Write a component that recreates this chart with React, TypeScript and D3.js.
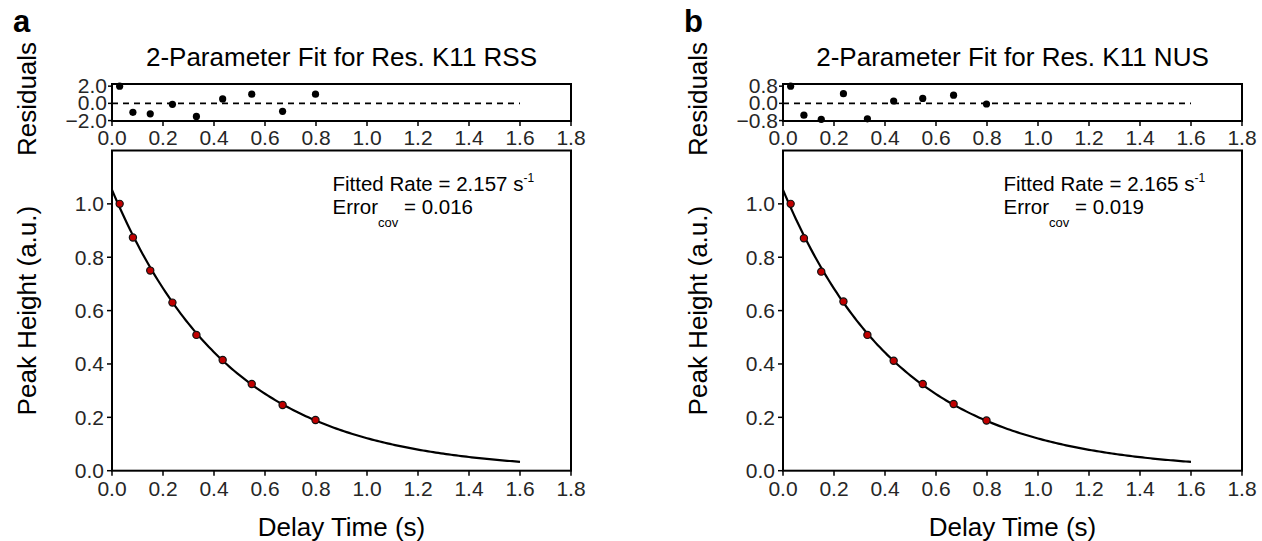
import React from "react";
import * as d3 from "d3";

// ---------- data ----------
const delayTimes = [0.03, 0.082, 0.15, 0.237, 0.331, 0.434, 0.548, 0.669, 0.798];

const rssHeights = [1.0, 0.874, 0.75, 0.63, 0.509, 0.415, 0.325, 0.246, 0.19];
const rssResiduals = [2.0, -1.04, -1.22, -0.11, -1.52, 0.52, 1.07, -0.93, 1.07];
const rssRate = 2.157;
const rssAmp = 1.0525;
const rssError = "0.016";

const nusHeights = [1.0, 0.871, 0.746, 0.634, 0.509, 0.412, 0.325, 0.25, 0.188];
const nusResiduals = [0.8, -0.55, -0.74, 0.45, -0.72, 0.11, 0.23, 0.38, -0.03];
const nusRate = 2.165;
const nusAmp = 1.0525;
const nusError = "0.019";

const xTicks = [0.0, 0.2, 0.4, 0.6, 0.8, 1.0, 1.2, 1.4, 1.6, 1.8];
const yTicks = [0.0, 0.2, 0.4, 0.6, 0.8, 1.0];
const rssResTicks = [-2.0, 0.0, 2.0];
const nusResTicks = [-0.8, 0.0, 0.8];
const fitRange = [0, 1.6];

// ---------- layout ----------
const W = 1262;
const H = 541;
const FONT = "'Liberation Sans', Arial, Helvetica, sans-serif";
const BOX_W = 459;
const MAIN_TOP = 150.5;
const MAIN_BOT = 470.7;
const RES_TOP = 84;
const RES_BOT = 121;
const TICK_FS = 21;
const LABEL_FS = 26;

type PanelProps = {
  x0: number;
  letter: string;
  title: string;
  heights: number[];
  residuals: number[];
  rate: number;
  amp: number;
  err: string;
  resTicks: number[];
  resDomain: [number, number];
};

function fmt(v: number) {
  const s = v.toFixed(1);
  return v < 0 ? "\u2212" + s.slice(1) : s;
}

function Panel(p: PanelProps) {
  const x = d3.scaleLinear().domain([0, 1.8]).range([p.x0, p.x0 + BOX_W]);
  const y = d3.scaleLinear().domain([0, 1.2]).range([MAIN_BOT, MAIN_TOP]);
  const yr = d3.scaleLinear().domain(p.resDomain).range([RES_BOT, RES_TOP]);

  const curveX = d3.range(0, 161).map((i) => fitRange[0] + (i / 160) * (fitRange[1] - fitRange[0]));
  const line = d3
    .line<number>()
    .x((t) => x(t))
    .y((t) => y(p.amp * Math.exp(-p.rate * t)));

  const tickColor = "#262626";
  const midX = p.x0 + BOX_W / 2;

  return (
    <g fontFamily={FONT}>
      <text x={p.x0 - 99} y={32} fontSize={31} fontWeight="bold" fill="#000">
        {p.letter}
      </text>
      <text x={midX} y={66} fontSize={26} textAnchor="middle" fill="#000">
        {p.title}
      </text>

      {/* residual panel */}
      <text
        transform={`translate(${p.x0 - 76},${99}) rotate(-90)`}
        fontSize={LABEL_FS}
        textAnchor="middle"
        fill="#000"
      >
        Residuals
      </text>
      <line
        x1={x(0)}
        x2={x(fitRange[1])}
        y1={yr(0)}
        y2={yr(0)}
        stroke="#000"
        strokeWidth={1.6}
        strokeDasharray="6,5"
      />
      {delayTimes.map((t, i) => (
        <circle key={"r" + i} cx={x(t)} cy={yr(p.residuals[i])} r={3.6} fill="#000" />
      ))}
      <rect x={p.x0} y={RES_TOP} width={BOX_W} height={RES_BOT - RES_TOP} fill="none" stroke="#000" strokeWidth={2} />
      {p.resTicks.map((v) => (
        <g key={"rt" + v}>
          <line x1={p.x0 - 4} x2={p.x0} y1={yr(v)} y2={yr(v)} stroke="#000" strokeWidth={1.5} />
          <text x={p.x0 - 5} y={yr(v) + 7} fontSize={TICK_FS} textAnchor="end" fill={tickColor}>
            {fmt(v)}
          </text>
        </g>
      ))}
      {xTicks.map((v) => (
        <g key={"rx" + v}>
          <line x1={x(v)} x2={x(v)} y1={RES_BOT} y2={RES_BOT + 5} stroke="#000" strokeWidth={1.5} />
          <text x={x(v)} y={RES_BOT + 24} fontSize={TICK_FS} textAnchor="middle" fill={tickColor}>
            {v.toFixed(1)}
          </text>
        </g>
      ))}

      {/* main panel */}
      <path d={line(curveX) || ""} fill="none" stroke="#000" strokeWidth={2.2} />
      {delayTimes.map((t, i) => (
        <circle
          key={"p" + i}
          cx={x(t)}
          cy={y(p.heights[i])}
          r={3.6}
          fill="#c00000"
          stroke="#111"
          strokeWidth={1.2}
        />
      ))}
      <rect x={p.x0} y={MAIN_TOP} width={BOX_W} height={MAIN_BOT - MAIN_TOP} fill="none" stroke="#000" strokeWidth={2} />
      {yTicks.map((v) => (
        <g key={"yt" + v}>
          <line x1={p.x0 - 5} x2={p.x0} y1={y(v)} y2={y(v)} stroke="#000" strokeWidth={1.5} />
          <text x={p.x0 - 8} y={y(v) + 7.5} fontSize={TICK_FS} textAnchor="end" fill={tickColor}>
            {v.toFixed(1)}
          </text>
        </g>
      ))}
      {xTicks.map((v) => (
        <g key={"xt" + v}>
          <line x1={x(v)} x2={x(v)} y1={MAIN_BOT} y2={MAIN_BOT + 5} stroke="#000" strokeWidth={1.5} />
          <text x={x(v)} y={MAIN_BOT + 25} fontSize={TICK_FS} textAnchor="middle" fill={tickColor}>
            {v.toFixed(1)}
          </text>
        </g>
      ))}
      <text x={midX} y={536} fontSize={LABEL_FS} textAnchor="middle" fill="#000">
        Delay Time (s)
      </text>
      <text
        transform={`translate(${p.x0 - 76},${(MAIN_TOP + MAIN_BOT) / 2}) rotate(-90)`}
        fontSize={LABEL_FS}
        textAnchor="middle"
        fill="#000"
      >
        Peak Height (a.u.)
      </text>

      {/* annotation */}
      <text x={p.x0 + 220.5} y={190.7} fontSize={20.5} fill="#000">
        {"Fitted Rate = " + p.rate.toFixed(3) + " s"}
        <tspan fontSize={12} dy={-9}>
          -1
        </tspan>
      </text>
      <text x={p.x0 + 220.5} y={213.5} fontSize={20.5} fill="#000">
        Error
        <tspan fontSize={13} dy={13}>
          cov
        </tspan>
        <tspan dy={-13}>{" = " + p.err}</tspan>
      </text>
    </g>
  );
}

export default function App() {
  return (
    <svg width={W} height={H} style={{ display: "block", position: "absolute", left: 0, top: 0, background: "#fff" }}>
      <rect x={0} y={0} width={W} height={H} fill="#fff" />
      <Panel
        x0={112}
        letter="a"
        title="2-Parameter Fit for Res. K11 RSS"
        heights={rssHeights}
        residuals={rssResiduals}
        rate={rssRate}
        amp={rssAmp}
        err={rssError}
        resTicks={rssResTicks}
        resDomain={[-2.05, 2.25]}
      />
      <Panel
        x0={783}
        letter="b"
        title="2-Parameter Fit for Res. K11 NUS"
        heights={nusHeights}
        residuals={nusResiduals}
        rate={nusRate}
        amp={nusAmp}
        err={nusError}
        resTicks={nusResTicks}
        resDomain={[-0.82, 0.9]}
      />
    </svg>
  );
}
